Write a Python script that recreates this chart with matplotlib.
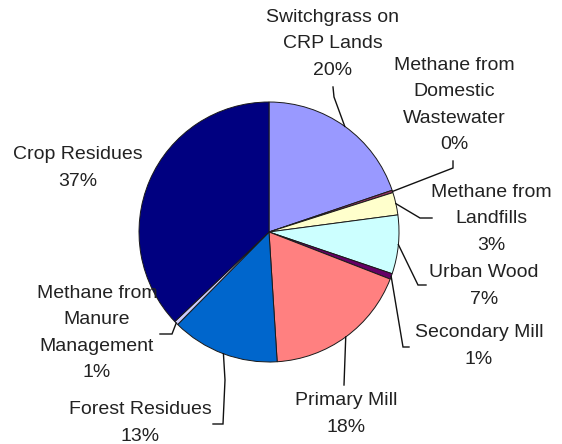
import numpy as np
import matplotlib
matplotlib.use("Agg")
import matplotlib.pyplot as plt

# ---- data ----
categories = ["Switchgrass on\nCRP Lands", "Methane from\nDomestic\nWastewater",
              "Methane from\nLandfills", "Urban Wood", "Secondary Mill",
              "Primary Mill", "Forest Residues", "Methane from\nManure\nManagement",
              "Crop Residues"]
values = [19.8, 0.3, 2.8, 7.3, 0.7, 18.1, 13.4, 0.5, 37.1]
colors = ["#9999FF", "#993366", "#FFFFCC", "#CCFFFF", "#660066",
          "#FF8080", "#0066CC", "#CCCCFF", "#000080"]

W, H = 562, 444
fig = plt.figure(figsize=(W / 100, H / 100), dpi=100)
ax = fig.add_axes([0, 0, 1, 1])

def P(x, y):
    return (x, H - y)

cx, cy = P(269, 232)
R = 130
wedges, _ = ax.pie(values, colors=colors, startangle=90, counterclock=False,
                   center=(cx, cy), radius=R,
                   wedgeprops=dict(edgecolor="#1a1a1a", linewidth=0.7))
ax.set_xlim(0, W)
ax.set_ylim(0, H)
ax.set_aspect("equal")
ax.axis("off")

# label layout (pixel positions): text centre, leader path (after the wedge edge point)
layout = [
    ((333, 44), [(334, 97), (333, 87)]),
    ((454, 105), [(453, 168), (453, 161)]),
    ((491, 219), [(420, 218), (432, 218)]),
    ((484, 286), [(418, 285), (426, 285)]),
    ((479, 346), [(403, 347), (409, 347)]),
    ((346, 414), [(344, 385)]),
    ((140, 423), [(225, 380), (223, 424), (213, 424)]),
    ((97, 333), [(172, 334), (160, 334)]),
    ((78, 168), None),
]

tc = "#222222"
for w, v, name, (tpos, path) in zip(wedges, values, categories, layout):
    pct = int(v + 0.5)
    x, y = P(*tpos)
    ax.text(x, y, f"{name}\n{pct}%", ha="center", va="center", fontsize=14,
            family="Liberation Sans", color=tc, linespacing=1.72)
    if path:
        mid = np.deg2rad((w.theta1 + w.theta2) / 2)
        pts = [(cx + R * np.cos(mid), cy + R * np.sin(mid))] + [P(*p) for p in path]
        xs, ys = zip(*pts)
        ax.plot(xs, ys, color="#111111", lw=1.0, solid_joinstyle="miter")

fig.savefig("out.png", dpi=100, facecolor="white")
